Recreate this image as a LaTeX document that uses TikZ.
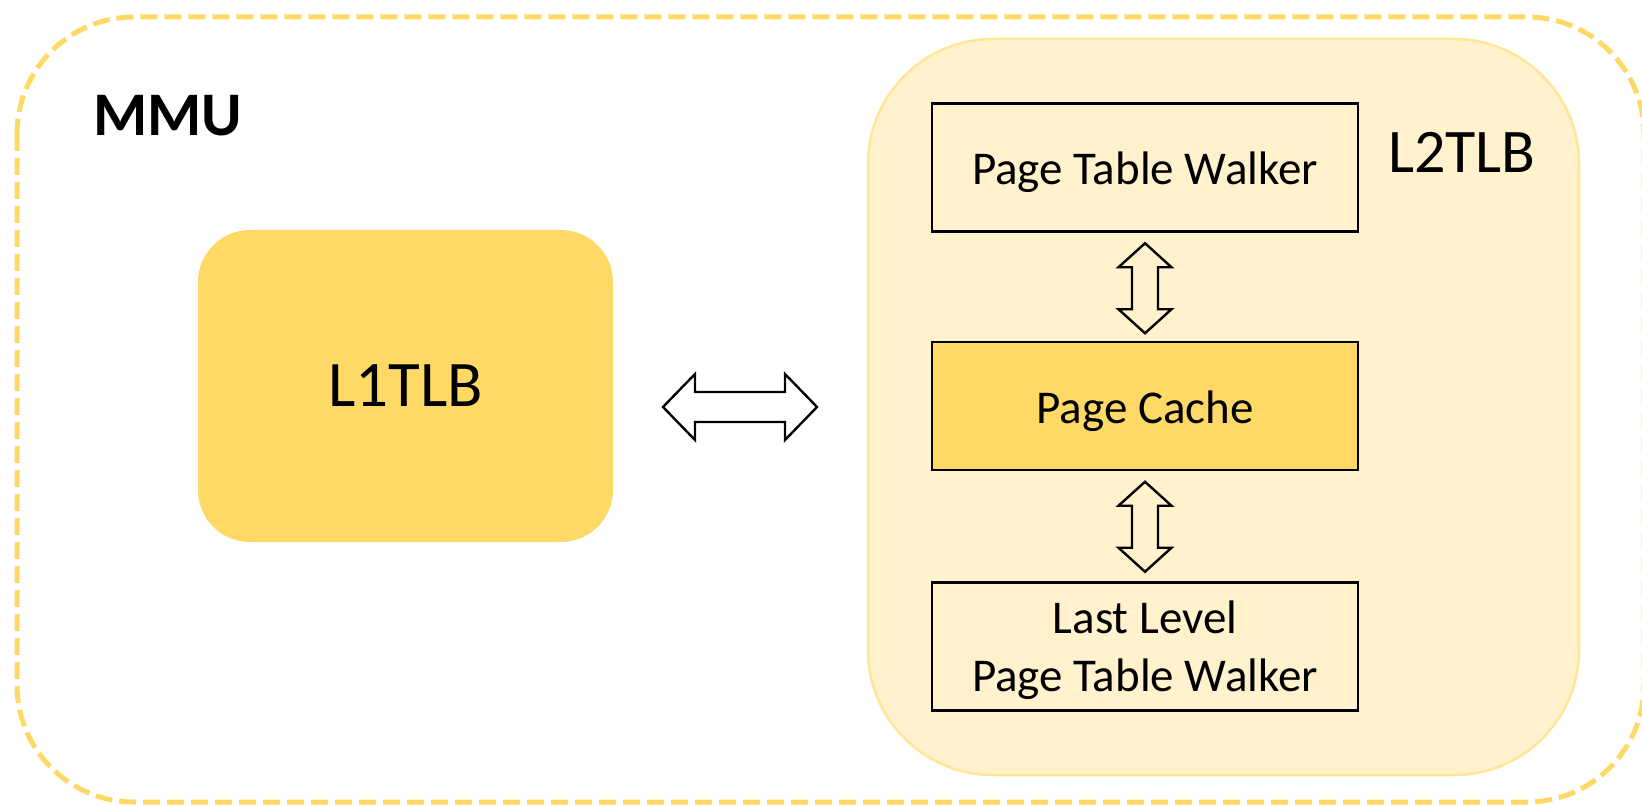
\documentclass[tikz,border=0pt]{standalone}
\usepackage{fontspec}
\setmainfont{Carlito}
\usetikzlibrary{calc}
\definecolor{gold}{HTML}{FFD966}
\definecolor{paleyellow}{HTML}{FFF2CC}
\definecolor{paleedge}{HTML}{FFE699}
\tikzset{
  x=1pt, y=-1pt,
  unitbox/.style={draw=black, line width=2.4pt, fill=paleyellow, minimum width=426pt,
    minimum height=128pt, inner sep=0pt, align=center,
    font=\fontsize{47}{58}\selectfont},
  oneline/.style={text height=35pt, text depth=0pt},
  blockarrow/.style={draw=black, line width=2.4pt, line join=miter}
}
\begin{document}
\begin{tikzpicture}
\useasboundingbox (0,0) rectangle (1642,805);

% MMU outline
\draw[gold, line width=5pt, dash pattern=on 17pt off 7pt, rounded corners=117pt]
  (17,17) rectangle (1644,802);
\node[anchor=base west, inner sep=0pt, font=\fontsize{62}{74}\selectfont\bfseries]
  (mmu) at (93,136) {MMU};

% L1TLB
\node[fill=gold, rounded corners=52pt, minimum width=415pt, minimum height=312pt,
  inner sep=0pt, font=\fontsize{65}{78}\selectfont] (l1) at (405.5,386) {L1TLB};

% L2TLB container
\draw[fill=paleyellow, draw=paleedge, line width=2.5pt, rounded corners=125pt]
  (868,39) rectangle (1579,775);
\node[anchor=base west, inner sep=0pt, font=\fontsize{62}{74}\selectfont]
  (l2) at (1388,173) {L2TLB};

% L2TLB parts
\node[unitbox, oneline] (ptw) at (1145,167.5) {Page Table Walker};
\node[unitbox, oneline, fill=gold] (pc) at (1145,406) {Page Cache};
\node[unitbox, text height=89pt, text depth=0pt] (llptw) at (1145,646.5)
  {Last Level\\Page Table Walker};

% vertical block arrows between the parts
\coordinate (a1) at ($(ptw.south)!0.5!(pc.north)+(0,1.5)$);
\coordinate (a2) at ($(pc.south)!0.5!(llptw.north)+(0,0.5)$);
\foreach \c in {a1,a2}{
  \draw[blockarrow, shift={(\c)}]
    (0,-45) -- (26.5,-21) -- (13,-21) -- (13,21) -- (26.5,21) -- (0,45)
    -- (-26.5,21) -- (-13,21) -- (-13,-21) -- (-26.5,-21) -- cycle;
}

% horizontal block arrow between L1TLB and L2TLB
\coordinate (h) at (740,407);
\draw[blockarrow, shift={(h)}]
  (-77,0) -- (-45,-33) -- (-45,-15) -- (45,-15) -- (45,-33) -- (77,0)
  -- (45,33) -- (45,15) -- (-45,15) -- (-45,33) -- cycle;
\end{tikzpicture}
\end{document}
